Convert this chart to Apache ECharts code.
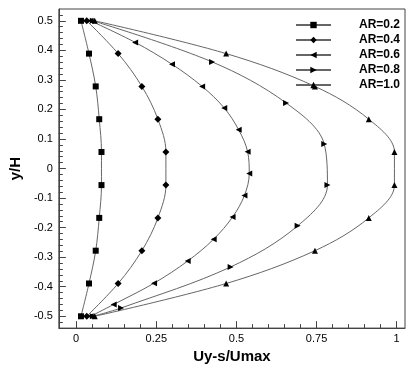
<!DOCTYPE html>
<html>
<head>
<meta charset="utf-8">
<script src="https://cdn.jsdelivr.net/npm/echarts@6/dist/echarts.min.js"></script>
<style>html,body{margin:0;padding:0;background:#fff}#c{width:409px;height:369px}</style>
</head>
<body>
<div id="c"></div>
<script>
// ---- data ----
const seriesNames = ['AR=0.2', 'AR=0.4', 'AR=0.6', 'AR=0.8', 'AR=1.0'];
const yTen = [0.5, 0.389, 0.278, 0.167, 0.056, -0.056, -0.167, -0.278, -0.389, -0.5];
const ar02x = [0.015, 0.040, 0.061, 0.072, 0.079, 0.079, 0.072, 0.061, 0.040, 0.015];
const ar04x = [0.033, 0.131, 0.205, 0.255, 0.280, 0.280, 0.255, 0.205, 0.131, 0.033];
const ar06y = [0.5, 0.427, 0.353, 0.278, 0.205, 0.131, 0.057, -0.017, -0.091, -0.164, -0.239, -0.313, -0.388, -0.460, -0.5];
const ar06x = [0.045, 0.184, 0.299, 0.393, 0.462, 0.507, 0.535, 0.540, 0.525, 0.488, 0.429, 0.348, 0.243, 0.117, 0.045];
const ar08y = [0.5, 0.361, 0.222, 0.083, -0.056, -0.194, -0.333, -0.472, -0.5];
const ar08x = [0.052, 0.424, 0.655, 0.774, 0.784, 0.691, 0.482, 0.140, 0.052];
const ar10x = [0.058, 0.468, 0.745, 0.913, 0.993, 0.993, 0.913, 0.745, 0.468, 0.058];
const xMajorTicks = [0, 0.25, 0.5, 0.75, 1];
const xMinorTicks = [0.05, 0.1, 0.15, 0.2, 0.3, 0.35, 0.4, 0.45, 0.55, 0.6, 0.65, 0.7, 0.8, 0.85, 0.9, 0.95];
const yMajorTicks = [-0.5, -0.4, -0.3, -0.2, -0.1, 0, 0.1, 0.2, 0.3, 0.4, 0.5];
const yMinorTicks = [-0.52, -0.48, -0.46, -0.44, -0.42, -0.38, -0.36, -0.34, -0.32, -0.28, -0.26, -0.24, -0.22,
  -0.18, -0.16, -0.14, -0.12, -0.08, -0.06, -0.04, -0.02, 0.02, 0.04, 0.06, 0.08, 0.12, 0.14, 0.16, 0.18,
  0.22, 0.24, 0.26, 0.28, 0.32, 0.34, 0.36, 0.38, 0.42, 0.44, 0.46, 0.48, 0.52];
const xTitle = 'Uy-s/Umax';
const yTitle = 'y/H';
// ---------------------------------------

const FONT = 'Arial, "Liberation Sans", sans-serif';
const pair = (xs, ys) => xs.map((x, i) => [x, ys[i]]);
const seriesData = [pair(ar02x, yTen), pair(ar04x, yTen), pair(ar06x, ar06y), pair(ar08x, ar08y), pair(ar10x, yTen)];
const symbols = ['rect', 'diamond', 'triangle', 'triangle', 'triangle'];
const rotates = [0, 0, 90, -90, 0];
const sizes = [6, 7, 6, 6, 6];

const XMIN = -0.054, XMAX = 1.026, YMIN = -0.54, YMAX = 0.54;
const axisColor = '#444';

const chart = echarts.init(document.getElementById('c'), null, {renderer: 'canvas'});
chart.setOption({
  animation: false,
  backgroundColor: '#fff',
  grid: {left: 53, right: 4, top: 9, bottom: 33, show: true, borderColor: axisColor, borderWidth: 1, backgroundColor: 'transparent'},
  legend: {
    left: 290, top: 14, orient: 'vertical', itemWidth: 35, itemHeight: 8, itemGap: 3,
    selectedMode: false,
    data: seriesNames,
    formatter: n => '{s|}' + n,
    textStyle: {fontFamily: FONT, fontSize: 12, fontWeight: 'bold', color: '#000',
      rich: {s: {width: 23}}}
  },
  xAxis: [{
    type: 'value', min: XMIN, max: XMAX, position: 'bottom',
    name: xTitle, nameLocation: 'middle', nameGap: 19,
    nameTextStyle: {fontFamily: FONT, fontSize: 15, fontWeight: 'bold', color: '#000'},
    axisLine: {show: true, onZero: false, lineStyle: {color: axisColor}},
    axisTick: {show: true, inside: true, length: 7, customValues: xMajorTicks, lineStyle: {color: axisColor}},
    axisLabel: {show: true, customValues: xMajorTicks, margin: 5, fontFamily: FONT, fontSize: 11, color: '#000',
      formatter: v => String(Math.round(v * 100) / 100)},
    splitLine: {show: false}
  }, {
    type: 'value', min: XMIN, max: XMAX, position: 'bottom',
    axisLine: {show: false, onZero: false},
    axisTick: {show: true, inside: true, length: 4, customValues: xMinorTicks, lineStyle: {color: axisColor}},
    axisLabel: {show: false},
    splitLine: {show: false}
  }],
  yAxis: [{
    type: 'value', min: YMIN, max: YMAX, position: 'left',
    name: yTitle, nameLocation: 'middle', nameGap: 21, nameRotate: 90,
    nameTextStyle: {fontFamily: FONT, fontSize: 15, fontWeight: 'bold', color: '#000'},
    axisLine: {show: true, onZero: false, lineStyle: {color: axisColor}},
    axisTick: {show: true, inside: true, length: 7, customValues: yMajorTicks, lineStyle: {color: axisColor}},
    axisLabel: {show: true, customValues: yMajorTicks, margin: 6, fontFamily: FONT, fontSize: 11, color: '#000',
      formatter: v => String(Math.round(v * 10) / 10)},
    splitLine: {show: false}
  }, {
    type: 'value', min: YMIN, max: YMAX, position: 'left',
    axisLine: {show: false, onZero: false},
    axisTick: {show: true, inside: true, length: 4, customValues: yMinorTicks, lineStyle: {color: axisColor}},
    axisLabel: {show: false},
    splitLine: {show: false}
  }],
  series: seriesNames.map((n, i) => ({
    name: n, type: 'line', xAxisIndex: 0, yAxisIndex: 0,
    data: seriesData[i],
    smooth: 0.35,
    symbol: symbols[i], symbolSize: sizes[i], symbolRotate: rotates[i], showSymbol: true,
    lineStyle: {color: '#666', width: 1},
    itemStyle: {color: '#000', borderWidth: 0},
    z: 3
  }))
});
</script>
</body>
</html>
